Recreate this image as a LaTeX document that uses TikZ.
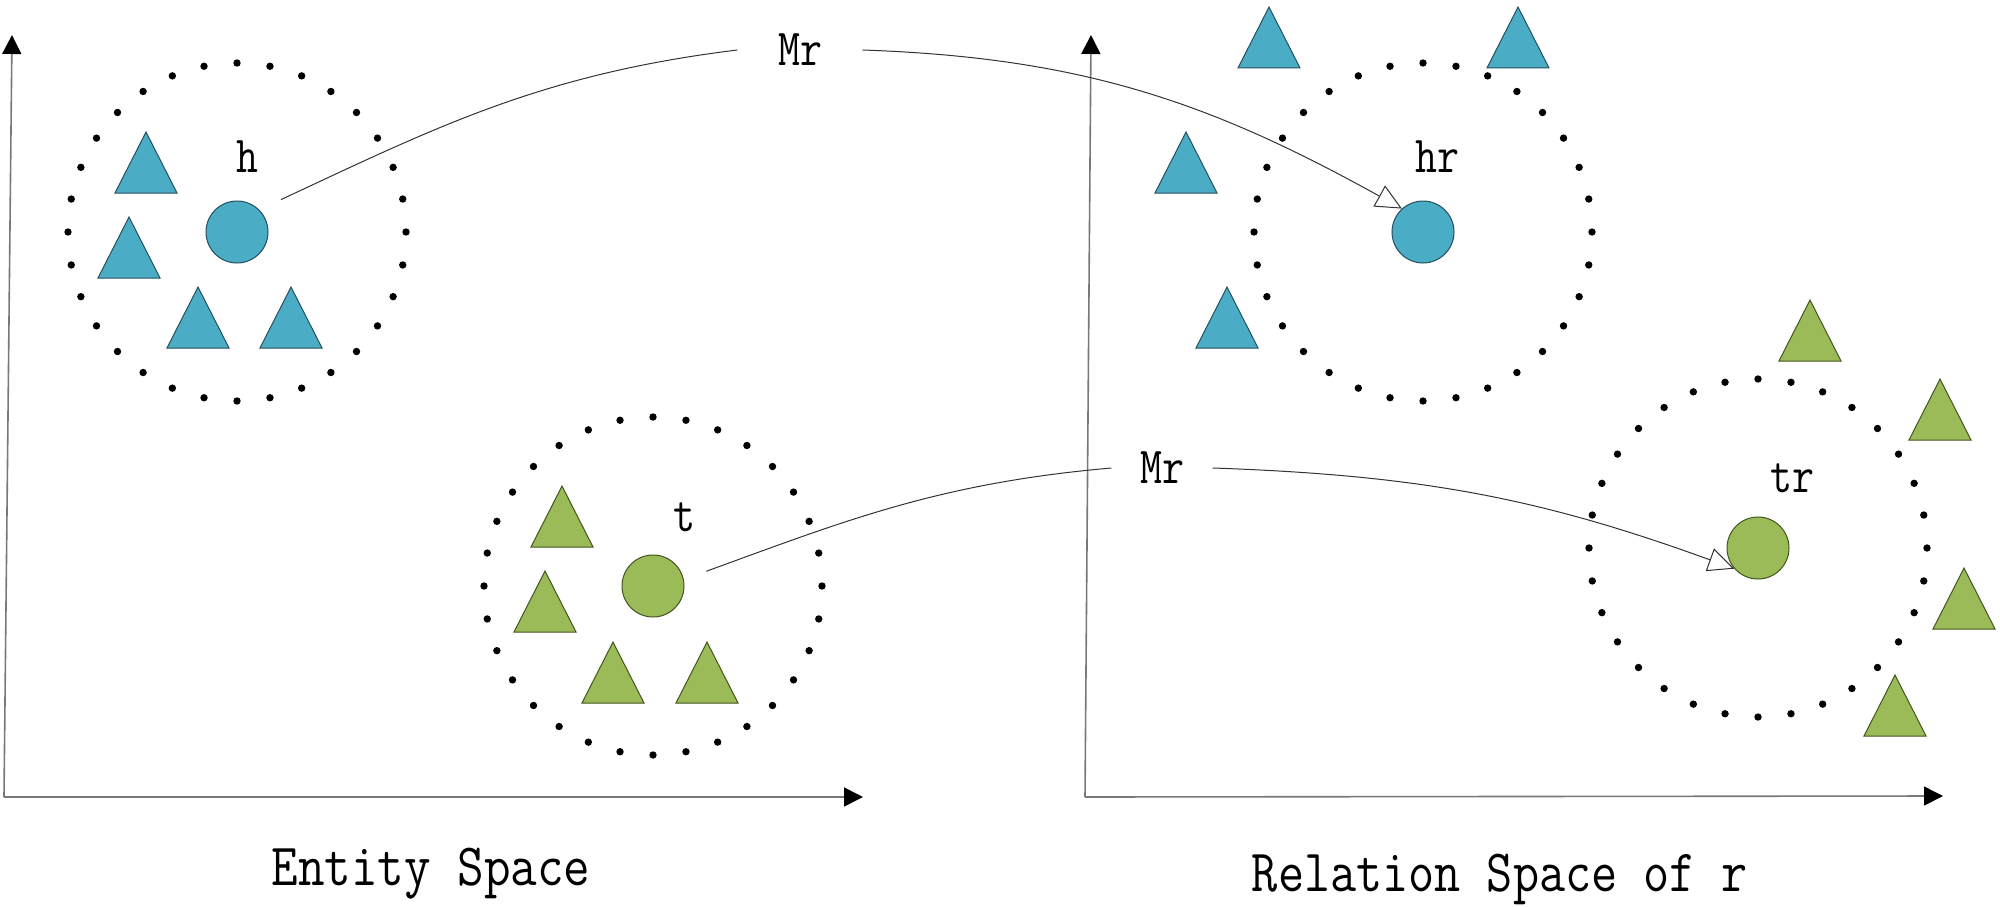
\documentclass[tikz,border=0pt]{standalone}
\usetikzlibrary{arrows.meta}
\definecolor{eblue}{RGB}{75,172,198}
\definecolor{egreen}{RGB}{155,187,89}
\definecolor{eblueline}{RGB}{35,80,95}
\definecolor{egreenline}{RGB}{65,85,30}
\definecolor{axisgray}{RGB}{120,120,120}
\begin{document}
\begin{tikzpicture}[x=1pt,y=-1pt,
  lbl/.style={font=\ttfamily\fontsize{52}{52}\selectfont, inner sep=0pt},
  captext/.style={font=\ttfamily\fontsize{60}{60}\selectfont, inner sep=0pt, anchor=base},
  bent/.style={circle, minimum size=62pt, inner sep=0pt, fill=eblue, draw=eblueline, line width=1pt},
  gent/.style={circle, minimum size=62pt, inner sep=0pt, fill=egreen, draw=egreenline, line width=1pt},
  btri/.style={fill=eblue, draw=eblueline, line width=1pt, line join=miter},
  gtri/.style={fill=egreen, draw=egreenline, line width=1pt, line join=miter},
  axisline/.style={draw=axisgray, line width=1.6pt, -{Triangle[length=19pt,width=19pt,color=black]}},
  conn/.style={draw=black!80, line width=1pt},
  openhead/.style={-{Triangle[length=26pt,width=24pt,fill=white,color=black!80]}},
  ringdot/.style={fill=black}]
\useasboundingbox (0,0) rectangle (2000,907);

% axes
\coordinate (o1) at (4,797);
\coordinate (y1) at (12,35);
\coordinate (x1) at (863,797);
\coordinate (o2) at (1085,797);
\coordinate (y2) at (1091,35);
\coordinate (x2) at (1943,796);
\draw[axisline] (o1) -- (y1);
\draw[axisline] (o1) -- (x1);
\draw[axisline] (o2) -- (y2);
\draw[axisline] (o2) -- (x2);

% ring centres
\coordinate (rh) at (237,232);
\coordinate (rt) at (653,586);
\coordinate (rhr) at (1423,232);
\coordinate (rtr) at (1758,548);
\foreach \c in {rh,rt,rhr,rtr}{
  \foreach \a in {0,11.25,...,350}{
    \fill[ringdot] (\c) ++(\a:169pt) circle (3.7pt);
  }
}

% triangles
\foreach \px/\py in {146/132,129/217,198/287,291/287,1269/7,1518/7,1186/132,1227/287}{
  \draw[btri] (\px,\py) -- ++(-31,61) -- ++(62,0) -- cycle;
}
\foreach \px/\py in {562/486,545/571,613/642,707/642,1810/300,1940/379,1964/568,1895/675}{
  \draw[gtri] (\px,\py) -- ++(-31,61) -- ++(62,0) -- cycle;
}

% entity nodes
\node[bent] (h) at (rh) {};
\node[gent] (t) at (rt) {};
\node[bent] (hr) at (rhr) {};
\node[gent] (tr) at (rtr) {};

% labels
\node[lbl] (lh) at (247,157) {\scalebox{0.82}[1]{h}};
\node[lbl] (lhr) at (1437,157) {\scalebox{0.82}[1]{hr}};
\node[lbl] (lt) at (684,517) {\scalebox{0.82}[1]{t}};
\node[lbl] (ltr) at (1792,478) {\scalebox{0.82}[1]{tr}};
\node[lbl, minimum width=125pt] (mr1) at (800,50) {\scalebox{0.82}[1]{Mr}};
\node[lbl, minimum width=101pt] (mr2) at (1162,468) {\scalebox{0.82}[1]{Mr}};

% connectors
\draw[conn, shorten <=24pt] (h.45) to[out=25,in=187] (mr1.west);
\draw[conn, openhead] (mr1.east) to[out=-2,in=151] (hr.132);
\draw[conn, shorten <=24pt] (t.12) to[out=20,in=185] (mr2.west);
\draw[conn, openhead] (mr2.east) to[out=-2,in=160] (tr.221);

% captions
\node[captext] (ent) at (431,885) {\scalebox{0.86}[1]{Entity Space}};
\node[captext] (rel) at (1500,891) {\scalebox{0.845}[1]{Relation Space of r}};
\end{tikzpicture}
\end{document}
